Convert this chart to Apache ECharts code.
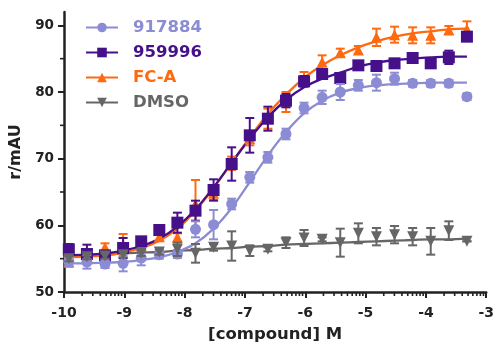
<!DOCTYPE html>
<html><head><meta charset="utf-8">
<script src="https://cdn.jsdelivr.net/npm/echarts@6/dist/echarts.min.js"></script>
<style>html,body{margin:0;padding:0;background:#fff}#c{width:497px;height:348px}</style>
</head><body><div id="c"></div>
<script>
const doses = [-9.92,-9.62,-9.32,-9.02,-8.72,-8.42,-8.12,-7.82,-7.52,-7.22,-6.92,-6.62,-6.32,-6.02,-5.72,-5.42,-5.12,-4.82,-4.52,-4.22,-3.92,-3.62,-3.32];
const fitX = [-10,-9.62,-9.32,-9.02,-8.72,-8.42,-8.12,-7.82,-7.52,-7.22,-6.92,-6.62,-6.32,-6.02,-5.72,-5.42,-5.12,-4.82,-4.52,-4.22,-3.92,-3.62,-3.32];
const xTicks = [-10,-9,-8,-7,-6,-5,-4,-3];
const yTicks = [50,60,70,80,90];
const yMinorTicks = [55,65,75,85];
const names = ['917884','959996','FC-A','DMSO'];
const colors = ['#8C8CD4','#46108A','#FF6A10','#666666'];
const symbols = ['circle','rect','triangle','path://M0,0 L10,0 L5,9 Z'];

const v917884 = [54.6,54.5,54.2,54.3,55.1,55.6,55.7,59.4,60.1,63.2,67.2,70.2,73.7,77.6,79.2,80.0,81.0,81.4,82.0,81.3,81.3,81.3,79.3];
const e917884 = [0.8,1.0,0.6,1.2,1.1,0.6,0.6,1.2,2.2,0.8,0.8,0.8,0.8,0.8,1.0,1.2,0.8,1.2,0.9,0.5,0.5,0.5,0.5];
const f917884 = [54.3,54.3,54.4,54.5,54.8,55.2,56.0,57.3,59.5,62.6,66.5,70.5,74.0,76.8,78.7,79.9,80.6,81.0,81.2,81.3,81.4,81.4,81.4];

const v959996 = [56.4,55.7,55.5,56.6,57.6,59.3,60.4,62.2,65.3,69.2,73.5,76.0,78.7,81.6,82.7,82.1,84.0,83.9,84.3,85.1,84.3,85.2,88.3];
const e959996 = [0.8,1.4,0.6,1.5,0.6,0.6,1.5,1.5,1.6,2.5,2.6,1.8,1.0,0.8,0.6,0.6,0.6,0.6,0.6,0.6,0.6,1.0,0.6];
const f959996 = [55.5,55.6,55.8,56.2,56.9,58.0,59.8,62.4,65.7,69.4,73.0,76.2,78.8,80.7,82.0,82.9,83.8,84.4,84.8,85.0,85.2,85.3,85.3];

const vFCA = [54.5,55.3,56.7,56.5,57.0,58.3,58.2,63.2,64.8,69.3,73.0,76.0,78.5,82.0,84.5,85.9,86.3,88.2,88.6,88.5,88.5,89.3,89.4];
const eFCA = [0.6,0.6,0.6,2.2,0.6,0.6,0.6,3.6,1.0,1.0,1.0,1.5,1.5,1.0,1.0,0.6,0.6,1.3,1.2,1.2,1.2,0.6,1.2];
const fFCA = [55.2,55.3,55.5,55.9,56.6,57.7,59.5,62.2,65.6,69.4,73.2,76.7,79.6,82.1,84.0,85.5,86.7,87.6,88.3,88.8,89.1,89.4,89.5];

const vDMSO = [55.0,55.3,55.4,55.6,55.8,56.0,56.4,55.8,56.7,56.9,56.2,56.4,57.4,58.1,57.9,57.4,58.8,58.3,58.6,58.3,57.6,59.2,57.6];
const eDMSO = [0.4,0.4,0.4,0.4,0.4,0.4,1.0,1.4,0.5,2.2,0.8,0.3,0.8,1.2,0.3,2.1,1.5,1.3,1.3,1.3,2.0,1.4,0];
const fDMSO = [55.3,55.5,55.6,55.8,55.9,56.0,56.2,56.3,56.5,56.6,56.8,56.9,57.1,57.2,57.3,57.4,57.5,57.6,57.7,57.8,57.9,57.9,58.0];

const vals = [v917884, v959996, vFCA, vDMSO];
const errs = [e917884, e959996, eFCA, eDMSO];
const fits = [f917884, f959996, fFCA, fDMSO];

// log-scale minor tick positions on the x axis
const xMinor = [];
for (let d = -10; d < -3; d++) for (let k = 2; k <= 9; k++) xMinor.push(d + Math.log10(k));

const FONT = 'DejaVu Sans';
const chart = echarts.init(document.getElementById('c'), null, {renderer:'canvas'});

const series = [];
[3,2,1,0].forEach(s => {
  series.push({
    name: names[s], type: 'line', smooth: 0.35, showSymbol: false,
    symbol: symbols[s], symbolSize: 11,
    data: fitX.map((x,i)=>[x, fits[s][i]]),
    lineStyle: {color: colors[s], width: 2.3}, itemStyle: {color: colors[s]},
    z: 2, silent: true
  });
});
[2,1,0,3].forEach((s, idx) => {
  series.push({
    name: names[s] + ' err', type: 'custom', clip: false, silent: true, z: 3 + idx,
    data: doses.map((x,i)=>[x, vals[s][i]-errs[s][i], vals[s][i]+errs[s][i]]),
    renderItem: (params, api) => {
      const lo = api.coord([api.value(0), api.value(1)]);
      const hi = api.coord([api.value(0), api.value(2)]);
      const w = 4.5;
      const st = {stroke: colors[s], lineWidth: 2};
      return {type:'group', children:[
        {type:'line', shape:{x1:lo[0],y1:lo[1],x2:hi[0],y2:hi[1]}, style:st},
        {type:'line', shape:{x1:lo[0]-w,y1:lo[1],x2:lo[0]+w,y2:lo[1]}, style:st},
        {type:'line', shape:{x1:hi[0]-w,y1:hi[1],x2:hi[0]+w,y2:hi[1]}, style:st}
      ]};
    }
  });
  series.push({
    name: names[s] + ' pts', type: 'scatter', silent: true, z: 3 + idx,
    symbol: symbols[s], symbolSize: s===1 ? 12 : 11,
    data: doses.map((x,i)=>[x, vals[s][i]]),
    itemStyle: {color: colors[s], opacity: 1}
  });
});
series.push({
  type:'custom', clip:false, silent:true, z: 10,
  data: xMinor.map(x=>[x, 50]),
  renderItem: (p, api) => {
    const c = api.coord([api.value(0), api.value(1)]);
    return {type:'line', shape:{x1:c[0],y1:c[1],x2:c[0],y2:c[1]+4}, style:{stroke:'#222', lineWidth:1.6}};
  }
});
series.push({
  type:'custom', clip:false, silent:true, z: 10,
  data: yMinorTicks.map(y=>[-10, y]),
  renderItem: (p, api) => {
    const c = api.coord([api.value(0), api.value(1)]);
    return {type:'line', shape:{x1:c[0],y1:c[1],x2:c[0]-4,y2:c[1]}, style:{stroke:'#222', lineWidth:1.6}};
  }
});

chart.setOption({
  animation: false,
  grid: {left: 64, right: 6, top: 12, bottom: 55},
  legend: {
    orient: 'vertical', left: 80, top: 14, itemWidth: 32, itemHeight: 12, itemGap: 8,
    data: names.map((n,i)=>({name:n, textStyle:{color: colors[i]}})),
    textStyle: {fontFamily: FONT, fontWeight: 'bold', fontSize: 16.5, padding: [0,0,0,10]},
    selectedMode: false
  },
  xAxis: {
    type: 'value', min: -10, max: -3, interval: 1,
    name: '[compound] M', nameLocation: 'middle', nameGap: 34,
    nameTextStyle: {fontFamily: FONT, fontWeight:'bold', fontSize: 16.5, color:'#222'},
    axisLine: {onZero:false, lineStyle:{color:'#222', width:2.5}},
    axisTick: {length: 6, lineStyle:{color:'#222', width:2}},
    axisLabel: {margin: 14, fontFamily: FONT, fontWeight:'bold', fontSize: 14, color:'#222',
      formatter: v => String(v)},
    splitLine: {show:false}
  },
  yAxis: {
    type: 'value', min: 50, max: 92,
    name: 'r/mAU', nameLocation: 'middle', nameGap: 32, nameRotate: 90,
    nameTextStyle: {fontFamily: FONT, fontWeight:'bold', fontSize: 16, color:'#222'},
    axisLine: {show:true, lineStyle:{color:'#222', width:2.5}},
    axisTick: {show:true, length: 6, customValues: yTicks, lineStyle:{color:'#222', width:2}},
    axisLabel: {margin: 10, customValues: yTicks, fontFamily: FONT, fontWeight:'bold', fontSize: 13.5, color:'#222'},
    splitLine: {show:false}
  },
  series: series
});
</script>
</body></html>
